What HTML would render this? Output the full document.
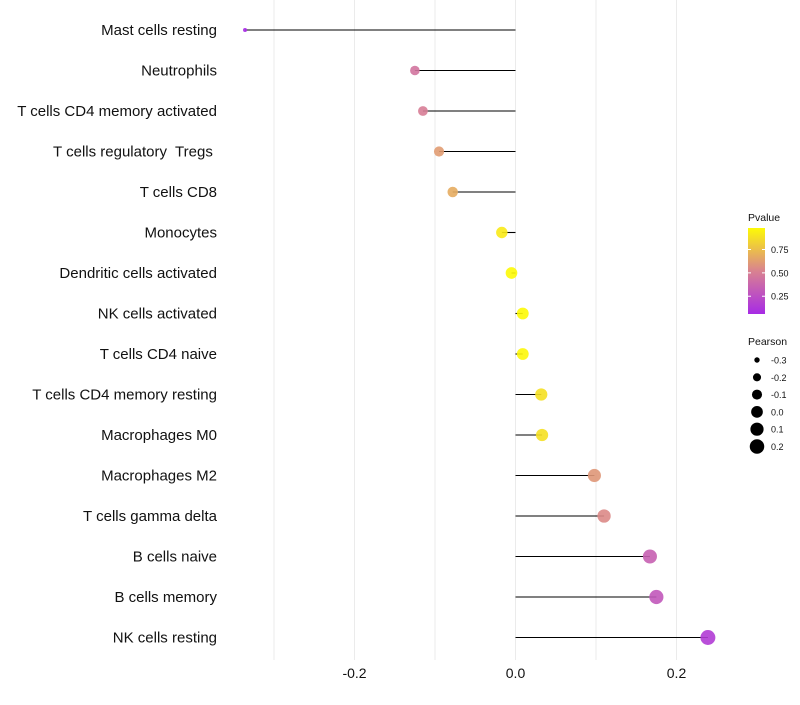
<!DOCTYPE html>
<html><head><meta charset="utf-8"><style>
body{margin:0;background:#fff;font-family:"Liberation Sans",sans-serif}
text{white-space:pre}
</style></head><body>
<svg id="chart" width="800" height="700" xmlns="http://www.w3.org/2000/svg" font-family="Liberation Sans, sans-serif"></svg>
<script>
const categories=["Mast cells resting","Neutrophils","T cells CD4 memory activated","T cells regulatory  Tregs ","T cells CD8","Monocytes","Dendritic cells activated","NK cells activated","T cells CD4 naive","T cells CD4 memory resting","Macrophages M0","Macrophages M2","T cells gamma delta","B cells naive","B cells memory","NK cells resting"];
const pearson=[-0.336,-0.125,-0.115,-0.095,-0.078,-0.017,-0.005,0.009,0.009,0.032,0.033,0.098,0.11,0.167,0.175,0.239];
const pvalues=[0.06,0.45,0.5,0.62,0.68,0.92,0.98,0.98,0.97,0.88,0.88,0.6,0.55,0.35,0.3,0.15];
const xTicks=[-0.2,0.0,0.2];
const xTickLabels=["-0.2","0.0","0.2"];
const gridVals=[-0.3,-0.2,-0.1,0,0.1,0.2];
const legendPearson=[-0.3,-0.2,-0.1,0.0,0.1,0.2];
const legendPearsonLabels=["-0.3","-0.2","-0.1","0.0","0.1","0.2"];
const pvalTicks=[0.25,0.5,0.75];
const pvalTickLabels=["0.25","0.50","0.75"];

const NS="http://www.w3.org/2000/svg";
const svg=document.getElementById('chart');
function mk(t,a,p){const e=document.createElementNS(NS,t);for(const k in a)e.setAttribute(k,a[k]);(p||svg).appendChild(e);return e;}
const x=v=>515.5+v*805;
const y=i=>30+i*40.5;
const rad=v=>Math.sqrt(Math.max(1,34.4+90.4*v));
function col(p){
  const stops=[[0,[160,32,240]],[0.5,[215,125,150]],[1,[255,255,0]]];
  let a=stops[0],b=stops[1];if(p>0.5){a=stops[1];b=stops[2];}
  const t=(p-a[0])/(b[0]-a[0]);
  return 'rgb('+a[1].map((c,k)=>Math.round(c+(b[1][k]-c)*t)).join(',')+')';
}
gridVals.forEach(v=>{const g=mk('line',{x1:x(v),x2:x(v),y1:0,y2:660,stroke:'#ebebeb','stroke-width':1});

});
xTicks.forEach((v,i)=>{const t=mk('text',{x:x(v),y:678,'text-anchor':'middle','font-size':14,fill:'#111'});t.textContent=xTickLabels[i];

});
categories.forEach((c,i)=>{
  const t=mk('text',{x:217,y:y(i)+5,'text-anchor':'end','font-size':15,fill:'#111'});t.textContent=c;
  
  
  const l=mk('line',{x1:x(0),x2:x(pearson[i]),y1:y(i),y2:y(i),stroke:'#000','stroke-width':1.1});
  
  
  const d=mk('circle',{cx:x(pearson[i]),cy:y(i),r:rad(pearson[i]),fill:col(pvalues[i]),'fill-opacity':0.9});
  
  
});
const lt=mk('text',{x:748,y:221,'font-size':10.5,fill:'#111'});lt.textContent='Pvalue';


const defs=mk('defs',{});const gr=mk('linearGradient',{id:'pg',x1:0,y1:1,x2:0,y2:0},defs);
[0,0.25,0.5,0.75,1].forEach(o=>mk('stop',{offset:o,'stop-color':col(0.06+o*0.92)},gr));
const cb=mk('rect',{x:748,y:228,width:17,height:86,fill:'url(#pg)'});


const py=p=>314-(p-0.06)/0.92*86;
pvalTicks.forEach((p,i)=>{mk('line',{x1:748,x2:751,y1:py(p),y2:py(p),stroke:'#fff'});mk('line',{x1:762,x2:765,y1:py(p),y2:py(p),stroke:'#fff'});
const t=mk('text',{x:771,y:py(p)+3.5,'font-size':9,fill:'#111'});t.textContent=pvalTickLabels[i];

});
const st=mk('text',{x:748,y:345,'font-size':10.5,fill:'#111'});st.textContent='Pearson';


legendPearson.forEach((v,i)=>{const cy=360+i*17.3;
const c=mk('circle',{cx:757,cy:cy,r:rad(v),fill:'#000'});


const t=mk('text',{x:771,y:cy+3.5,'font-size':9,fill:'#111'});t.textContent=legendPearsonLabels[i];

});
</script>
</body></html>
